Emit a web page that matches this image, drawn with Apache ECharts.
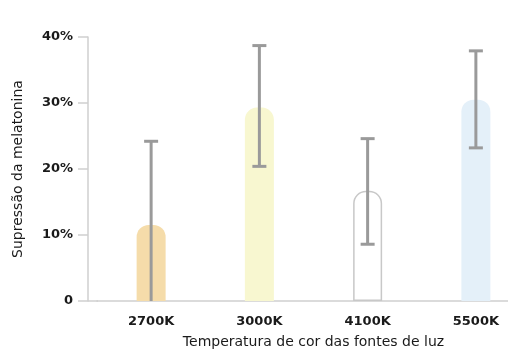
<!DOCTYPE html>
<html><head><meta charset="utf-8">
<script src="https://cdn.jsdelivr.net/npm/echarts@6/dist/echarts.min.js"></script>
<style>html,body{margin:0;padding:0;background:#fff}#c{width:508px;height:349px}</style>
</head><body><div id="c"></div>
<script>
var categories = ['2700K', '3000K', '4100K', '5500K'];
var values = [11.5, 29.3, 16.7, 30.5];
var errLow = [0, 20.4, 8.6, 23.2];
var errHigh = [24.2, 38.7, 24.6, 37.9];
var yTicks = [0, 10, 20, 30, 40];
var barColors = ['#f5dcaa', '#f8f7d0', '#ffffff', '#e4f0f9'];

var font = 'DejaVu Sans';
var chart = echarts.init(document.getElementById('c'), null, {renderer: 'canvas'});
var barData = values.map(function (v, i) {
  var it = {value: v, itemStyle: {color: barColors[i]}};
  if (i === 2) { it.itemStyle.borderColor = '#c8c8c8'; it.itemStyle.borderWidth = 1.5; }
  return it;
});
var errData = categories.map(function (c, i) { return [i, errLow[i], errHigh[i]]; });

chart.setOption({
  animation: false,
  backgroundColor: '#fff',
  grid: {left: 97, top: 37, width: 433, bottom: 48, containLabel: false, outerBoundsMode: 'none'},
  xAxis: {
    type: 'category', data: categories,
    axisLine: {lineStyle: {color: '#cfcfcf', width: 1.5}},
    axisTick: {show: false},
    axisLabel: {color: '#1a1a1a', fontFamily: font, fontSize: 13, fontWeight: 'bold', margin: 14},
    name: 'Temperatura de cor das fontes de luz', nameLocation: 'middle', nameGap: 34,
    nameTextStyle: {color: '#1a1a1a', fontFamily: font, fontSize: 14}
  },
  yAxis: {
    type: 'value', min: 0, max: 40, interval: 10, offset: 9,
    axisLine: {show: true, lineStyle: {color: '#cfcfcf', width: 1.5}},
    axisTick: {show: true, length: 10, lineStyle: {color: '#cfcfcf', width: 1.5}},
    splitLine: {show: false},
    axisLabel: {color: '#1a1a1a', fontFamily: font, fontSize: 13, fontWeight: 'bold', margin: 15,
      formatter: function (v) { return yTicks.indexOf(v) >= 0 ? (v === 0 ? '0' : v + '%') : ''; }},
    name: 'Supressão da melatonina', nameLocation: 'middle', nameGap: 63, nameRotate: 90,
    nameTextStyle: {color: '#1a1a1a', fontFamily: font, fontSize: 14}
  },
  graphic: [{type: 'line', shape: {x1: 88, y1: 301, x2: 98, y2: 301}, style: {stroke: '#cfcfcf', lineWidth: 1.5}}],
  series: [
    {type: 'bar', data: barData, barWidth: 29, itemStyle: {borderRadius: [12, 12, 0, 0]}},
    {type: 'custom', data: errData, z: 10,
      renderItem: function (params, api) {
        var x = api.value(0);
        var lo = api.coord([x, api.value(1)]);
        var hi = api.coord([x, api.value(2)]);
        var cw = 7;
        var st = {stroke: '#9a9a9a', lineWidth: 3};
        return {type: 'group', children: [
          {type: 'line', shape: {x1: lo[0], y1: lo[1], x2: hi[0], y2: hi[1]}, style: st},
          {type: 'line', shape: {x1: hi[0] - cw, y1: hi[1], x2: hi[0] + cw, y2: hi[1]}, style: st},
          {type: 'line', shape: {x1: lo[0] - cw, y1: lo[1], x2: lo[0] + cw, y2: lo[1]}, style: st, invisible: api.value(1) === 0}
        ]};
      }}
  ]
});
</script></body></html>
